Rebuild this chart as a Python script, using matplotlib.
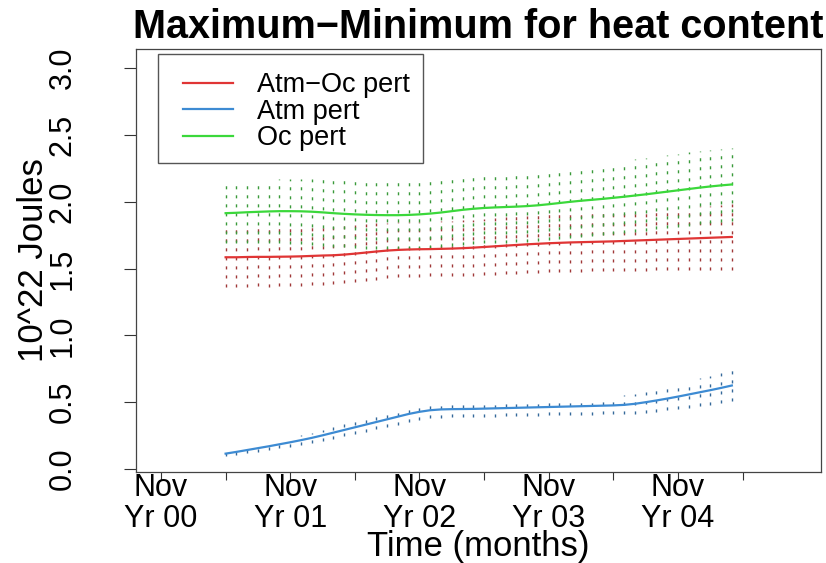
import matplotlib
matplotlib.use("Agg")
import matplotlib.pyplot as plt
from matplotlib.patches import Rectangle
import numpy as np

plt.rcParams['font.family'] = ['Liberation Sans', 'DejaVu Sans']

# ---- data ----
months = list(range(6, 54))  # months after Nov Yr 00

atm_oc = [1.585, 1.585, 1.587, 1.588, 1.588, 1.589, 1.590, 1.592, 1.595, 1.598, 1.600, 1.605,
          1.612, 1.620, 1.628, 1.635, 1.640, 1.643, 1.645, 1.646, 1.648, 1.650, 1.653, 1.657,
          1.662, 1.667, 1.672, 1.677, 1.682, 1.686, 1.690, 1.693, 1.696, 1.698, 1.700, 1.702,
          1.704, 1.707, 1.710, 1.713, 1.716, 1.719, 1.722, 1.725, 1.728, 1.731, 1.734, 1.737]
atm = [0.115, 0.128, 0.142, 0.156, 0.170, 0.185, 0.200, 0.216, 0.233, 0.252, 0.272, 0.292,
       0.312, 0.332, 0.352, 0.372, 0.392, 0.412, 0.428, 0.440, 0.446, 0.448, 0.449, 0.450,
       0.452, 0.454, 0.456, 0.458, 0.460, 0.462, 0.464, 0.466, 0.468, 0.470, 0.472, 0.474,
       0.476, 0.480, 0.488, 0.500, 0.513, 0.527, 0.542, 0.558, 0.574, 0.590, 0.607, 0.625]
oc = [1.915, 1.918, 1.922, 1.925, 1.928, 1.930, 1.930, 1.929, 1.926, 1.921, 1.915, 1.910,
      1.906, 1.903, 1.901, 1.900, 1.900, 1.902, 1.906, 1.912, 1.920, 1.930, 1.940, 1.948,
      1.954, 1.958, 1.961, 1.964, 1.968, 1.974, 1.982, 1.991, 2.000, 2.008, 2.015, 2.022,
      2.030, 2.038, 2.047, 2.056, 2.066, 2.076, 2.086, 2.096, 2.106, 2.115, 2.123, 2.130]

atm_oc_spread = [0.220, 0.220, 0.221, 0.221, 0.222, 0.222, 0.222, 0.221, 0.220, 0.219, 0.218, 0.216,
                 0.214, 0.212, 0.210, 0.208, 0.206, 0.205, 0.205, 0.205, 0.206, 0.207, 0.208, 0.210,
                 0.211, 0.212, 0.213, 0.214, 0.215, 0.216, 0.217, 0.218, 0.219, 0.220, 0.221, 0.222,
                 0.223, 0.224, 0.226, 0.228, 0.230, 0.232, 0.234, 0.236, 0.238, 0.240, 0.242, 0.244]
atm_spread = [0.020, 0.022, 0.024, 0.026, 0.028, 0.030, 0.032, 0.035, 0.038, 0.041, 0.044, 0.047,
              0.050, 0.053, 0.056, 0.058, 0.060, 0.061, 0.062, 0.062, 0.062, 0.062, 0.062, 0.062,
              0.062, 0.062, 0.062, 0.062, 0.062, 0.062, 0.062, 0.062, 0.063, 0.064, 0.065, 0.066,
              0.068, 0.071, 0.075, 0.079, 0.084, 0.089, 0.094, 0.099, 0.104, 0.109, 0.114, 0.119]
oc_spread = [0.225, 0.228, 0.231, 0.234, 0.237, 0.240, 0.242, 0.244, 0.246, 0.248, 0.250, 0.251,
             0.252, 0.253, 0.254, 0.255, 0.256, 0.257, 0.258, 0.259, 0.260, 0.261, 0.262, 0.263,
             0.264, 0.265, 0.266, 0.266, 0.267, 0.267, 0.268, 0.268, 0.269, 0.269, 0.270, 0.270,
             0.271, 0.271, 0.272, 0.272, 0.273, 0.273, 0.274, 0.274, 0.275, 0.275, 0.276, 0.276]

series_names = ["Atm\u2212Oc pert", "Atm pert", "Oc pert"]
tick_months = [0, 6, 12, 18, 24, 30, 36, 42, 48, 54]
tick_labels = ["Nov\nYr 00", "", "Nov\nYr 01", "", "Nov\nYr 02", "",
               "Nov\nYr 03", "", "Nov\nYr 04", ""]
y_ticks = [0.0, 0.5, 1.0, 1.5, 2.0, 2.5, 3.0]

# ---- figure ----
W, H = 826, 563
fig = plt.figure(figsize=(W / 100, H / 100), dpi=100)
L, R, B, T = 136, 821, 472, 49
ax = fig.add_axes([L / W, (H - B) / H, (R - L) / W, (B - T) / H])

line_cols = ['#e03535', '#3d8bd3', '#3bd83b']
bar_cols = ['#a03838', '#35699a', '#3a9a3a']
vals = [atm_oc, atm, oc]
spreads = [atm_oc_spread, atm_spread, oc_spread]

handles = []
for v, s, lc, bc, name in zip(vals, spreads, line_cols, bar_cols, series_names):
    v = np.array(v)
    s = np.array(s)
    ax.vlines(months, v - s, v + s, colors=bc, linestyles=(0, (2.2, 4.3)),
              linewidth=1.0, zorder=2)
    h, = ax.plot(months, v, color=lc, linewidth=1.6, zorder=3, label=name)
    handles.append(h)

ax.set_xlim(-2.32, 61.28)
ax.set_ylim(-0.0225, 3.144)

ax.set_xticks(tick_months)
ax.set_xticklabels(tick_labels, fontsize=22, linespacing=1.05)
ax.set_yticks(y_ticks)
ax.set_yticklabels([f"{t:.1f}" for t in y_ticks], fontsize=22, rotation=90, va='center')
ax.tick_params(axis='x', length=6, width=0.8, pad=-5.5, colors='#333333', labelcolor='black')
ax.tick_params(axis='y', length=9, width=0.8, pad=33, colors='#333333', labelcolor='black')

for sp in ax.spines.values():
    sp.set_color('#444444')
    sp.set_linewidth(0.9)

ax.set_title("Maximum\u2212Minimum for heat content", fontsize=28.5, fontweight='bold', pad=8)
ax.set_xlabel("Time (months)", fontsize=25)
ax.xaxis.set_label_coords(0.5, (B - 530) / (B - T))
ax.set_ylabel("10^22 Joules", fontsize=25)
ax.yaxis.set_label_coords((50 - L) / (R - L), 0.5)

# legend box (R-style, wider than contents)
fig.patches.append(Rectangle((158 / W, (H - 163) / H), (423 - 158) / W, (163 - 54) / H,
                             transform=fig.transFigure, fill=False,
                             edgecolor='#555555', linewidth=1.0))
ax.legend(handles=handles, labels=series_names, frameon=False, loc='upper left',
          bbox_to_anchor=(183 / W, (H - 72) / H), bbox_transform=fig.transFigure,
          fontsize=19.5, handlelength=1.85, handletextpad=0.88, labelspacing=0.02,
          borderpad=0, borderaxespad=0)

fig.savefig("out.png", dpi=100)
